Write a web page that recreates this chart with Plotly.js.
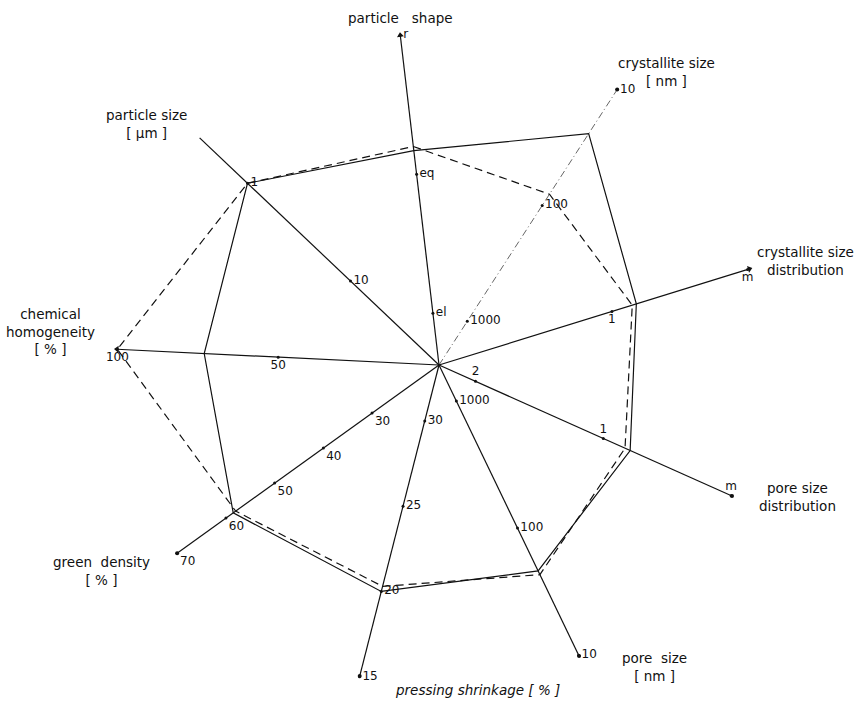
<!DOCTYPE html>
<html>
<head>
<meta charset="utf-8">
<script src="https://cdn.plot.ly/plotly-3.0.1.min.js"></script>
<style>html,body{margin:0;padding:0;background:#fff;}#chart{width:859px;height:706px;}</style>
</head>
<body>
<div id="chart"></div>
<script>
// ---------------- DATA ----------------
const axisNames = ['particle shape', 'crystallite size', 'crystallite size distribution',
  'pore size distribution', 'pore size', 'pressing shrinkage', 'green density',
  'chemical homogeneity', 'particle size'];
// category axes hold the index of the category (el=0, eq=1, r=2 ; 2=0, 1=1, m=2)
const solidValues  = [1.17, 24, 1.18, 1.21, 46, 20,   58.5, 73,  1];
const dashedValues = [1.20, 80, 1.15, 1.17, 43, 20.3, 58,   100, 1];
const tickValues = [[0, 1, 2], [1000, 100, 10], [1, 2], [0, 1, 2], [1000, 100, 10],
  [30, 25, 20, 15], [30, 40, 50, 60, 70], [50, 100], [10, 1]];
const tickLabels = [['el', 'eq', 'r'], ['1000', '100', '10'], ['1', 'm'], ['2', '1', 'm'],
  ['1000', '100', '10'], ['30', '25', '20', '15'], ['30', '40', '50', '60', '70'],
  ['50', '100'], ['10', '1']];

// ---------------- AXIS GEOMETRY / STYLE ----------------
const axisAngles  = [96.7, 57.1, 17.2, -24.1, -64.3, 255.7, 215.7, 177.2, 136.5];
const axisLengths = [332, 328, 325, 321, 323, 321, 322.5, 322.4, 330];
const axisScales = [
  {f: 'lin', a: 52,    b: 140},
  {f: 'log', a: 466,   b: -138},
  {f: 'lin', a: 39,    b: 142},
  {f: 'lin', a: 40,    b: 140},
  {f: 'log', a: 463,   b: -141},
  {f: 'lin', a: 585.7, b: -17.6},
  {f: 'lin', a: -97.6, b: 6},
  {f: 'lin', a: 0,     b: 3.22},
  {f: 'log', a: 264,   b: -142}
];
const tickPos = ['middle right', 'middle right', 'bottom center', 'top center', 'middle right',
  'middle right', 'bottom right', 'bottom center', 'middle right'];
const endSymbols = ['triangle-up', 'circle', 'triangle-up', 'circle', 'circle', 'circle', 'circle', 'triangle-up', null];

function toR(i, v) {
  const s = axisScales[i];
  const t = s.f === 'log' ? Math.log10(v) : v;
  return s.a + s.b * t;
}

const FONT = 'DejaVu Sans, Liberation Sans, sans-serif';
const traces = [];

// axis lines
axisNames.forEach((name, i) => {
  traces.push({
    type: 'scatterpolar', mode: 'lines',
    r: [0, axisLengths[i]], theta: [axisAngles[i], axisAngles[i]],
    line: {color: i === 1 ? '#555' : '#111', width: i === 1 ? 0.9 : 1.2,
           dash: i === 1 ? '7px,3px,1px,3px' : 'solid'},
    hoverinfo: 'skip', showlegend: false, cliponaxis: false
  });
  if (endSymbols[i]) {
    traces.push({
      type: 'scatterpolar', mode: 'markers',
      r: [axisLengths[i]], theta: [axisAngles[i]],
      marker: {symbol: endSymbols[i], size: endSymbols[i] === 'circle' ? 4 : 6, color: '#111',
               angle: 90 - axisAngles[i]},
      hoverinfo: 'skip', showlegend: false, cliponaxis: false
    });
  }
  // ticks + labels
  traces.push({
    type: 'scatterpolar', mode: 'markers+text',
    r: tickValues[i].map(v => toR(i, v)),
    theta: tickValues[i].map(() => axisAngles[i]),
    text: tickLabels[i], textposition: tickPos[i],
    textfont: {family: FONT, size: 12, color: '#111'},
    marker: {size: 3, color: '#111'},
    hoverinfo: 'skip', showlegend: false, cliponaxis: false
  });
});

function polygon(vals, dash) {
  const r = vals.map((v, i) => toR(i, v));
  const th = axisAngles.slice();
  r.push(r[0]); th.push(th[0]);
  return {
    type: 'scatterpolar', mode: 'lines', r: r, theta: th,
    line: {color: '#111', width: 1.2, dash: dash},
    hoverinfo: 'skip', showlegend: false, cliponaxis: false
  };
}
traces.push(polygon(solidValues, 'solid'));
traces.push(polygon(dashedValues, '8px,5px'));

// ---------------- LAYOUT ----------------
const W = 859, H = 706, CX = 439, CY = 365, R = 340;
function ann(text, px, py, italic) {
  return {text: italic ? '<i>' + text + '</i>' : text, x: px / W, y: 1 - py / H, xref: 'paper', yref: 'paper',
          showarrow: false, xanchor: 'center', yanchor: 'middle', align: 'center',
          font: {family: FONT, size: 13.5, color: '#111'}};
}
const annotations = [
  ann('particle&nbsp;&nbsp;&nbsp;shape', 400, 18),
  ann('crystallite size<br>[ nm ]', 666, 72),
  ann('crystallite size<br>distribution', 805, 261),
  ann('pore size<br>distribution', 797, 497),
  ann('pore&nbsp;&nbsp;size<br>[ nm ]', 654, 667),
  ann('pressing shrinkage [ % ]', 478, 690, true),
  ann('green&nbsp;&nbsp;density<br>[ % ]', 101, 571),
  ann('chemical<br>homogeneity<br>[ % ]', 50, 331),
  ann('particle size<br>[ μm ]', 146, 124)
];

const layout = {
  width: W, height: H, margin: {l: 0, r: 0, t: 0, b: 0},
  paper_bgcolor: '#fff', plot_bgcolor: '#fff', showlegend: false,
  polar: {
    domain: {x: [(CX - R) / W, (CX + R) / W], y: [(H - CY - R) / H, (H - CY + R) / H]},
    bgcolor: 'rgba(0,0,0,0)',
    radialaxis: {range: [0, R], visible: false, showgrid: false},
    angularaxis: {rotation: 0, direction: 'counterclockwise', visible: false, showgrid: false, thetaunit: 'degrees'}
  },
  annotations: annotations
};

Plotly.newPlot('chart', traces, layout, {displayModeBar: false, staticPlot: true});
</script>
</body>
</html>
